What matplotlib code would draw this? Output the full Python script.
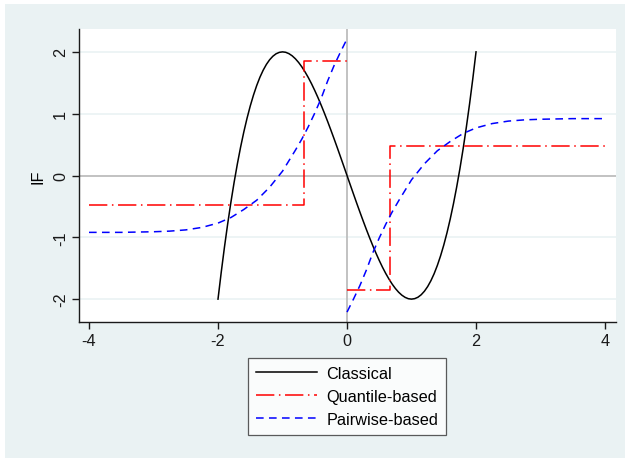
import matplotlib
matplotlib.use("Agg")
import matplotlib.pyplot as plt
from matplotlib.patches import Rectangle

plt.rcParams['font.family'] = ['Liberation Sans', 'DejaVu Sans']

# Classical IF
x_classical = [-2.00, -1.95, -1.90, -1.85, -1.80, -1.75, -1.70, -1.65, -1.60, -1.55,
               -1.50, -1.45, -1.40, -1.35, -1.30, -1.25, -1.20, -1.15, -1.10, -1.05,
               -1.00, -0.95, -0.90, -0.85, -0.80, -0.75, -0.70, -0.65, -0.60, -0.55,
               -0.50, -0.45, -0.40, -0.35, -0.30, -0.25, -0.20, -0.15, -0.10, -0.05,
               0.00, 0.05, 0.10, 0.15, 0.20, 0.25, 0.30, 0.35, 0.40, 0.45,
               0.50, 0.55, 0.60, 0.65, 0.70, 0.75, 0.80, 0.85, 0.90, 0.95,
               1.00, 1.05, 1.10, 1.15, 1.20, 1.25, 1.30, 1.35, 1.40, 1.45,
               1.50, 1.55, 1.60, 1.65, 1.70, 1.75, 1.80, 1.85, 1.90, 1.95, 2.00]
y_classical = [-2.000, -1.565, -1.159, -0.782, -0.432, -0.109, 0.187, 0.458, 0.704, 0.926,
               1.125, 1.301, 1.456, 1.590, 1.703, 1.797, 1.872, 1.929, 1.969, 1.992,
               2.000, 1.993, 1.971, 1.936, 1.888, 1.828, 1.757, 1.675, 1.584, 1.484,
               1.375, 1.259, 1.136, 1.007, 0.873, 0.734, 0.592, 0.447, 0.299, 0.150,
               0.000, -0.150, -0.299, -0.447, -0.592, -0.734, -0.873, -1.007, -1.136, -1.259,
               -1.375, -1.484, -1.584, -1.675, -1.757, -1.828, -1.888, -1.936, -1.971, -1.993,
               -2.000, -1.992, -1.969, -1.929, -1.872, -1.797, -1.703, -1.590, -1.456, -1.301,
               -1.125, -0.926, -0.704, -0.458, -0.187, 0.109, 0.432, 0.782, 1.159, 1.565, 2.000]

# Quantile-based IF (step function, two pieces)
x_quant_left = [-4.0, -0.67, -0.67, 0.0]
y_quant_left = [-0.47, -0.47, 1.85, 1.85]
x_quant_right = [0.0, 0.67, 0.67, 4.0]
y_quant_right = [-1.85, -1.85, 0.47, 0.47]

# Pairwise-based IF (two pieces)
x_pair_left = [-4.0, -3.5, -3.0, -2.75, -2.5, -2.25, -2.0, -1.8, -1.6, -1.4, -1.2,
               -1.0, -0.9, -0.8, -0.7, -0.6, -0.5, -0.4, -0.3, -0.2, -0.1, 0.0]
y_pair_left = [-0.92, -0.92, -0.91, -0.90, -0.88, -0.84, -0.77, -0.68, -0.55, -0.40, -0.19,
               0.07, 0.24, 0.41, 0.59, 0.79, 1.01, 1.25, 1.53, 1.78, 2.00, 2.21]
x_pair_right = [0.0, 0.1, 0.2, 0.3, 0.4, 0.5, 0.6, 0.7, 0.8, 0.9, 1.0,
                1.2, 1.4, 1.6, 1.8, 2.0, 2.25, 2.5, 2.75, 3.0, 3.5, 4.0]
y_pair_right = [-2.21, -2.00, -1.78, -1.53, -1.25, -1.01, -0.79, -0.59, -0.41, -0.24, -0.07,
                0.19, 0.40, 0.55, 0.68, 0.77, 0.84, 0.88, 0.90, 0.91, 0.92, 0.92]

x_ticks = [-4, -2, 0, 2, 4]
y_ticks = [-2, -1, 0, 1, 2]

W, H = 631, 464
FS = 11.7
fig = plt.figure(figsize=(W / 100, H / 100), dpi=100)
fig.patch.set_facecolor('white')
bg = '#EAF2F3'
fig.patches.append(Rectangle((5 / W, 5 / H), (625 - 5) / W, (459 - 5) / H,
                             transform=fig.transFigure, facecolor=bg,
                             edgecolor='none', zorder=-10))

ax = fig.add_axes([79 / W, 1 - 323 / H, (616 - 79) / W, (323 - 30) / H])
ax.set_facecolor('white')
ax.set_xlim(-4.155, 4.17)
ax.set_ylim(-2.37, 2.37)

for yv in [-2, -1, 1, 2]:
    ax.axhline(yv, color='#EAF2F3', lw=1.2, zorder=0)
ax.axhline(0, color='#BDBDBD', lw=1.3, zorder=0.5)
ax.axvline(0, color='#BDBDBD', lw=1.3, zorder=0.5)

l1, = ax.plot(x_classical, y_classical, color='black', lw=1.1, label='Classical')
l2, = ax.plot(x_quant_left, y_quant_left, color='#FF0000', lw=1.1,
              dashes=(12, 3, 1, 3), label='Quantile-based')
ax.plot(x_quant_right, y_quant_right, color='#FF0000', lw=1.1, dashes=(12, 3, 1, 3))
l3, = ax.plot(x_pair_left, y_pair_left, color='#0000FF', lw=1.1,
              dashes=(5, 3.5), label='Pairwise-based')
ax.plot(x_pair_right, y_pair_right, color='#0000FF', lw=1.1, dashes=(5, 3.5))

for s in ['top', 'right']:
    ax.spines[s].set_visible(False)
for s in ['left', 'bottom']:
    ax.spines[s].set_color('#1a1a1a')
    ax.spines[s].set_linewidth(1.0)

ax.set_xticks(x_ticks)
ax.set_yticks(y_ticks)
ax.set_xticklabels([str(v) for v in x_ticks])
ax.set_yticklabels([str(v) for v in y_ticks], rotation=90, va='center')
ax.tick_params(direction='out', length=5, width=1, colors='#1a1a1a',
               labelsize=FS, pad=3)
ax.set_ylabel('IF', fontsize=FS, labelpad=5)

leg = fig.legend(handles=[l1, l2, l3], loc='upper center',
                 bbox_to_anchor=(347 / W, 1 - 359 / H), ncol=1,
                 fontsize=FS, frameon=True, fancybox=False,
                 handlelength=3.75, handletextpad=0.6, labelspacing=0.48,
                 borderpad=0.5, borderaxespad=0)
leg.get_frame().set_edgecolor('#333333')
leg.get_frame().set_linewidth(0.9)
leg.get_frame().set_facecolor('white')

fig.savefig('out.png', dpi=100, facecolor='white')
